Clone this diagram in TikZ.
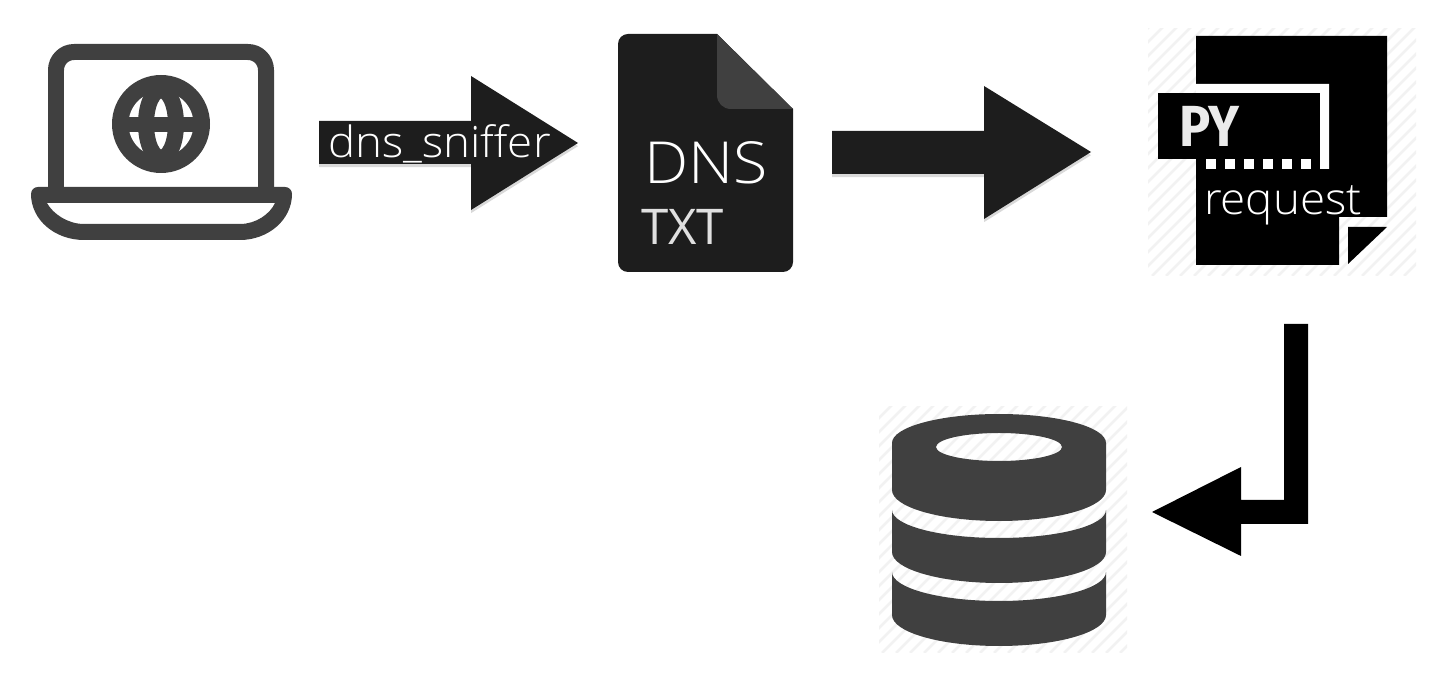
\documentclass[tikz,border=0pt]{standalone}
\usepackage{fontspec}
\setmainfont{Open Sans Light}
\newfontfamily\pyfont{Fira Sans Bold}
\newfontfamily\txtfont{Open Sans}
\usetikzlibrary{shadows}
\definecolor{iconGray}{HTML}{404040}
\definecolor{docBlack}{HTML}{1D1D1D}
\definecolor{hatchGray}{HTML}{F2F2F2}
\tikzset{
  iconfill/.style={fill=iconGray},
  blockarrow/.style={fill=docBlack, drop shadow={shadow xshift=0pt, shadow yshift=-1.8pt, opacity=0.3}},
  hatchline/.style={draw=hatchGray, line width=0.05cm},
  whitetext/.style={text=white, anchor=base west, inner sep=0pt, outer sep=0pt}
}
\begin{document}
\begin{tikzpicture}[x=0.02cm, y=-0.02cm, line join=round]
  % Marco de la imagen
  \useasboundingbox (0,0) rectangle (1450,688);

  % Puntos de la caja rayada
  \coordinate (PyCorner) at (1148,29);
  \coordinate (PyEnd) at (1416,276);
  \coordinate (DbCorner) at (879,407);
  \coordinate (DbEnd) at (1127,653);

  % Fondos rayados
  \begin{scope}
    \clip (PyCorner) rectangle (PyEnd);
    \foreach \k in {0,...,40} \draw[hatchline] (900+\k*14,276) -- ++(260,-260);
  \end{scope}
  \begin{scope}
    \clip (DbCorner) rectangle (DbEnd);
    \foreach \k in {0,...,40} \draw[hatchline] (630+\k*14,653) -- ++(260,-260);
  \end{scope}

  % Portatil
  \draw[iconGray, line width=0.32cm] (56,195) -- (56,70) arc[start angle=180, end angle=270, radius=18]
    -- (248,52) arc[start angle=270, end angle=360, radius=18] -- (266,195);
  \fill[iconfill, even odd rule] (38,187) -- (285,187)
    arc[start angle=270, end angle=360, radius=7] (292,194)
    .. controls (292,220) and (268,240) .. (240,240) -- (84,240)
    .. controls (55,240) and (31,220) .. (31,194)
    arc[start angle=180, end angle=270, radius=7] -- cycle
    (47,203) -- (275,203) .. controls (270,214) and (256,224) .. (240,224) -- (84,224)
    .. controls (68,224) and (53,214) .. (47,203) -- cycle;

  % Globo
  \coordinate (Globe) at (161,124);
  \fill[iconfill] (Globe) circle (49);
  \fill[white] (Globe) circle (32.5);
  \draw[iconGray, line width=0.32cm] (Globe) ellipse (15 and 34);
  \draw[iconGray, line width=0.3cm] (125,124.5) -- (197,124.5);

  % Flecha 1
  \draw[blockarrow, draw=none] (319,121) -- (471,121) -- (471,76) -- (578,143) -- (471,210) -- (471,164) -- (319,164) -- cycle;
  \node[whitetext, xscale=1.06, font=\fontsize{24.5}{26}\selectfont] (Sniffer) at (328,158) {dns\_sniffer};

  % Archivo DNS
  \fill[docBlack] (717,34) -- (628,34) arc[start angle=270, end angle=180, radius=10]
    -- (618,262) arc[start angle=180, end angle=90, radius=10]
    -- (783,272) arc[start angle=90, end angle=0, radius=10] -- (793,109) -- cycle;
  \fill[iconGray] (717,34) -- (793,109) -- (731,109) .. controls (723,109) and (717,103) .. (717,95) -- cycle;
  \node[whitetext, xscale=1.08, font=\fontsize{33}{35}\selectfont] (Dns) at (644,184) {DNS};
  \node[whitetext, text=white!88!black, font=\txtfont\fontsize{28}{30}\selectfont] (Txt) at (641,245) {TXT};

  % Flecha 2
  \draw[blockarrow, draw=none] (832,131) -- (984,131) -- (984,86) -- (1091,152) -- (984,219) -- (984,174) -- (832,174) -- cycle;

  % Icono PY
  \fill[black] (1196,36) -- (1387,36) -- (1387,217) -- (1339,217) -- (1339,265) -- (1196,265) -- cycle;
  \fill[black] (1348,227) -- (1387,227) -- (1348,264) -- cycle;
  \fill[white] (1196,84) -- (1329,84) -- (1329,169) -- (1320,169) -- (1320,93) -- (1196,93) -- cycle;
  \fill[black] (1158,93) rectangle (1320,159);
  \foreach \k in {0,...,5} \fill[white] (1206+\k*19,159) rectangle ++(9.5,10);
  \node[whitetext, text=white!92!black, xscale=0.9, font=\pyfont\fontsize{33}{35}\selectfont] (Py) at (1179,147) {PY};
  \node[whitetext, xscale=1.04, font=\fontsize{25}{27}\selectfont] (Request) at (1204,215) {request};

  % Flecha acodada
  \fill[black] (1308,324) -- (1308,524) -- (1241,524) -- (1241,556) -- (1152,512) -- (1241,467) -- (1241,500) -- (1284,500) -- (1284,324) -- cycle;

  % Base de datos
  \fill[iconfill, even odd rule] (892,443) arc[start angle=180, end angle=360, x radius=107, y radius=29]
    -- (1106,490) arc[start angle=0, end angle=180, x radius=107, y radius=31] -- cycle
    (999,447) ellipse (63 and 14);
  \fill[iconfill] (892,510) arc[start angle=180, end angle=0, x radius=107, y radius=28]
    -- (1106,552) arc[start angle=0, end angle=180, x radius=107, y radius=31] -- cycle;
  \fill[iconfill] (892,572) arc[start angle=180, end angle=0, x radius=107, y radius=29]
    -- (1106,615) arc[start angle=0, end angle=180, x radius=107, y radius=31] -- cycle;
\end{tikzpicture}
\end{document}
